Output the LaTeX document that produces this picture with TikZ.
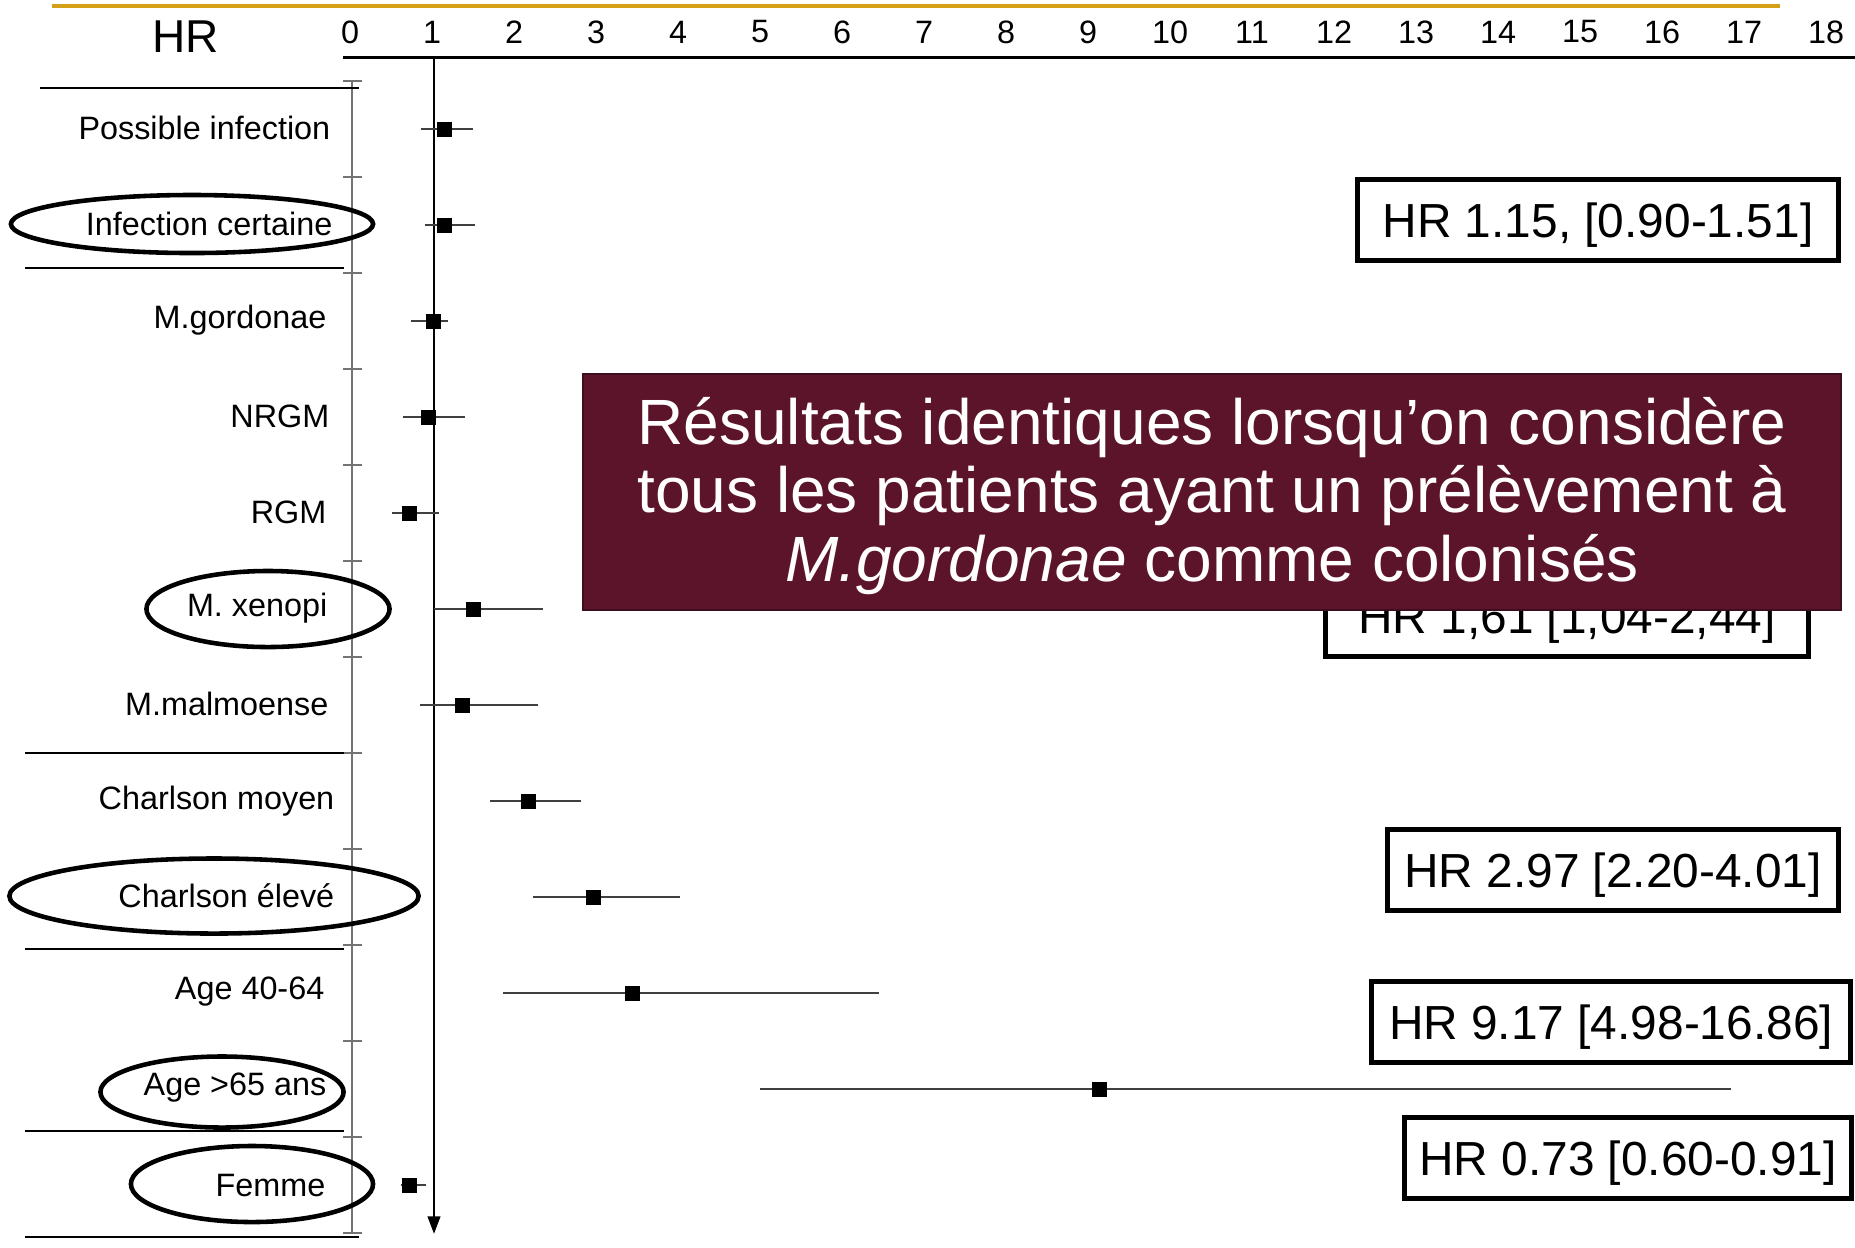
\documentclass[tikz,border=0pt]{standalone}
\usepackage{fontspec}
\setmainfont{Liberation Sans}
\usetikzlibrary{arrows.meta,shapes.geometric}

\definecolor{gold}{RGB}{212,160,23}
\definecolor{wine}{RGB}{92,20,42}
\definecolor{winedark}{RGB}{62,14,28}

\begin{document}
\begin{tikzpicture}[x=0.01cm,y=-0.01cm,
  every node/.style={font=\fontsize{9.2}{11}\selectfont},
  lab/.style={anchor=east,inner sep=0pt},
  oval/.style={ellipse,draw,line width=1.3pt,inner sep=0pt},
  hrbox/.style={draw,line width=1.4pt,minimum height=0.81cm,inner sep=0pt,
    text height=9.8pt,text depth=0pt,font=\fontsize{13.6}{16}\selectfont},
  pt/.style={fill=black,inner sep=0pt,minimum size=0.15cm},
  ci/.style={black!75,line width=0.45pt},
  sep/.style={line width=0.7pt},
  msgbox/.style={fill=wine,draw=winedark,line width=0.6pt,minimum width=12.58cm,minimum height=2.36cm},
  msgtext/.style={text=white,align=center,inner sep=0pt,font=\fontsize{18.2}{19.6}\selectfont}]
  \useasboundingbox (0,0) rectangle (1855,1247);

  % header
  \draw[gold,line width=1pt] (52,6) -- (1780,6);
  \node[font=\fontsize{13.1}{15}\selectfont] (hrtitle) at (186,37) {HR};
  \foreach \k in {0,...,18}
    \node (num\k) at ({350+82*\k},32) {\k};
  \draw[line width=0.85pt] (343,57) -- (1855,57);

  % left axis and ticks
  \draw[black!55,line width=0.6pt] (352,81) -- (352,1233);
  \foreach \k in {0,...,12}
    \draw[black!55,line width=0.6pt] (343,{81+96*\k}) -- (362,{81+96*\k});

  % group separators
  \draw[sep] (40,88) -- (359,88);
  \draw[sep] (25,268) -- (344,268);
  \draw[sep] (25,753) -- (344,753);
  \draw[sep] (25,949) -- (344,949);
  \draw[sep] (25,1131) -- (344,1131);
  \draw[sep] (25,1237) -- (359,1237);

  % row labels
  \node[lab] (possible) at (331,128) {Possible infection};
  \node[lab] (certaine) at (333,224) {Infection certaine};
  \node[lab] (gordonae) at (327,320) {M.gordonae};
  \node[lab] (nrgm) at (330,416) {NRGM};
  \node[lab] (rgm) at (327,512) {RGM};
  \node[lab] (xenopi) at (328,608) {M. xenopi};
  \node[lab] (malmoense) at (329,704) {M.malmoense};
  \node[lab] (moyen) at (335,801) {Charlson moyen};
  \node[lab] (eleve) at (335,896) {Charlson élevé};
  \node[lab] (age40) at (325,992) {Age 40-64};
  \node[lab] (age65) at (327,1088) {Age >65 ans};
  \node[lab] (femme) at (326,1185) {Femme};

  % circled rows
  \node[oval,minimum width=3.62cm,minimum height=0.58cm] (ovCertaine) at (192,224) {};
  \node[oval,minimum width=2.43cm,minimum height=0.76cm] (ovXenopi) at (268,609) {};
  \node[oval,minimum width=4.09cm,minimum height=0.75cm] (ovEleve) at (214,896) {};
  \node[oval,minimum width=2.43cm,minimum height=0.71cm] (ovAge65) at (222,1092) {};
  \node[oval,minimum width=2.42cm,minimum height=0.76cm] (ovFemme) at (252,1184) {};

  % reference line at HR 1
  \draw[line width=0.8pt,-{Triangle[length=5pt,width=3.5pt]}] (434,57) -- (434,1234);

  % estimates and intervals, x in HR units
  \begin{scope}[shift={(350,0)},x=0.82cm]
    \draw[ci] (0.87,129) -- (1.50,129);
    \node[pt] (ptPossible) at (1.15,129) {};
    \draw[ci] (0.91,225) -- (1.52,225);
    \node[pt] (ptCertaine) at (1.15,225) {};
    \draw[ci] (0.74,321) -- (1.20,321);
    \node[pt] (ptGordonae) at (1.02,321) {};
    \draw[ci] (0.64,417) -- (1.40,417);
    \node[pt] (ptNrgm) at (0.96,417) {};
    \draw[ci] (0.51,513) -- (1.08,513);
    \node[pt] (ptRgm) at (0.72,513) {};
    \draw[ci] (1.02,609) -- (2.35,609);
    \node[pt] (ptXenopi) at (1.51,609) {};
    \draw[ci] (0.85,705) -- (2.29,705);
    \node[pt] (ptMalmoense) at (1.37,705) {};
    \draw[ci] (1.71,801) -- (2.81,801);
    \node[pt] (ptMoyen) at (2.18,801) {};
    \draw[ci] (2.23,897) -- (4.02,897);
    \node[pt] (ptEleve) at (2.97,897) {};
    \draw[ci] (1.86,993) -- (6.45,993);
    \node[pt] (ptAge40) at (3.44,993) {};
    \draw[ci] (5.00,1089) -- (16.83,1089);
    \node[pt] (ptAge65) at (9.13,1089) {};
    \draw[ci] (0.62,1185) -- (0.93,1185);
    \node[pt] (ptFemme) at (0.72,1185) {};
  \end{scope}

  % HR boxes
  \node[hrbox,minimum width=4.81cm] (hrCertaine) at (1598,220) {HR 1.15, [0.90-1.51]};
  \node[hrbox,minimum width=4.83cm] (hrXenopi) at (1567,616) {HR 1,61 [1,04-2,44]};
  \node[hrbox,minimum width=4.51cm] (hrEleve) at (1613,870) {HR 2.97 [2.20-4.01]};
  \node[hrbox,minimum width=4.78cm] (hrAge65) at (1611,1022) {HR 9.17 [4.98-16.86]};
  \node[hrbox,minimum width=4.47cm] (hrFemme) at (1628,1158) {HR 0.73 [0.60-0.91]};

  % message box
  \node[msgbox] (message) at (1212,492) {};
  \node[msgtext] (messagetext) at (1212,496) {Résultats identiques lorsqu’on considère\\
    tous les patients ayant un prélèvement à\\
    \textit{M.gordonae} comme colonisés};
\end{tikzpicture}
\end{document}
